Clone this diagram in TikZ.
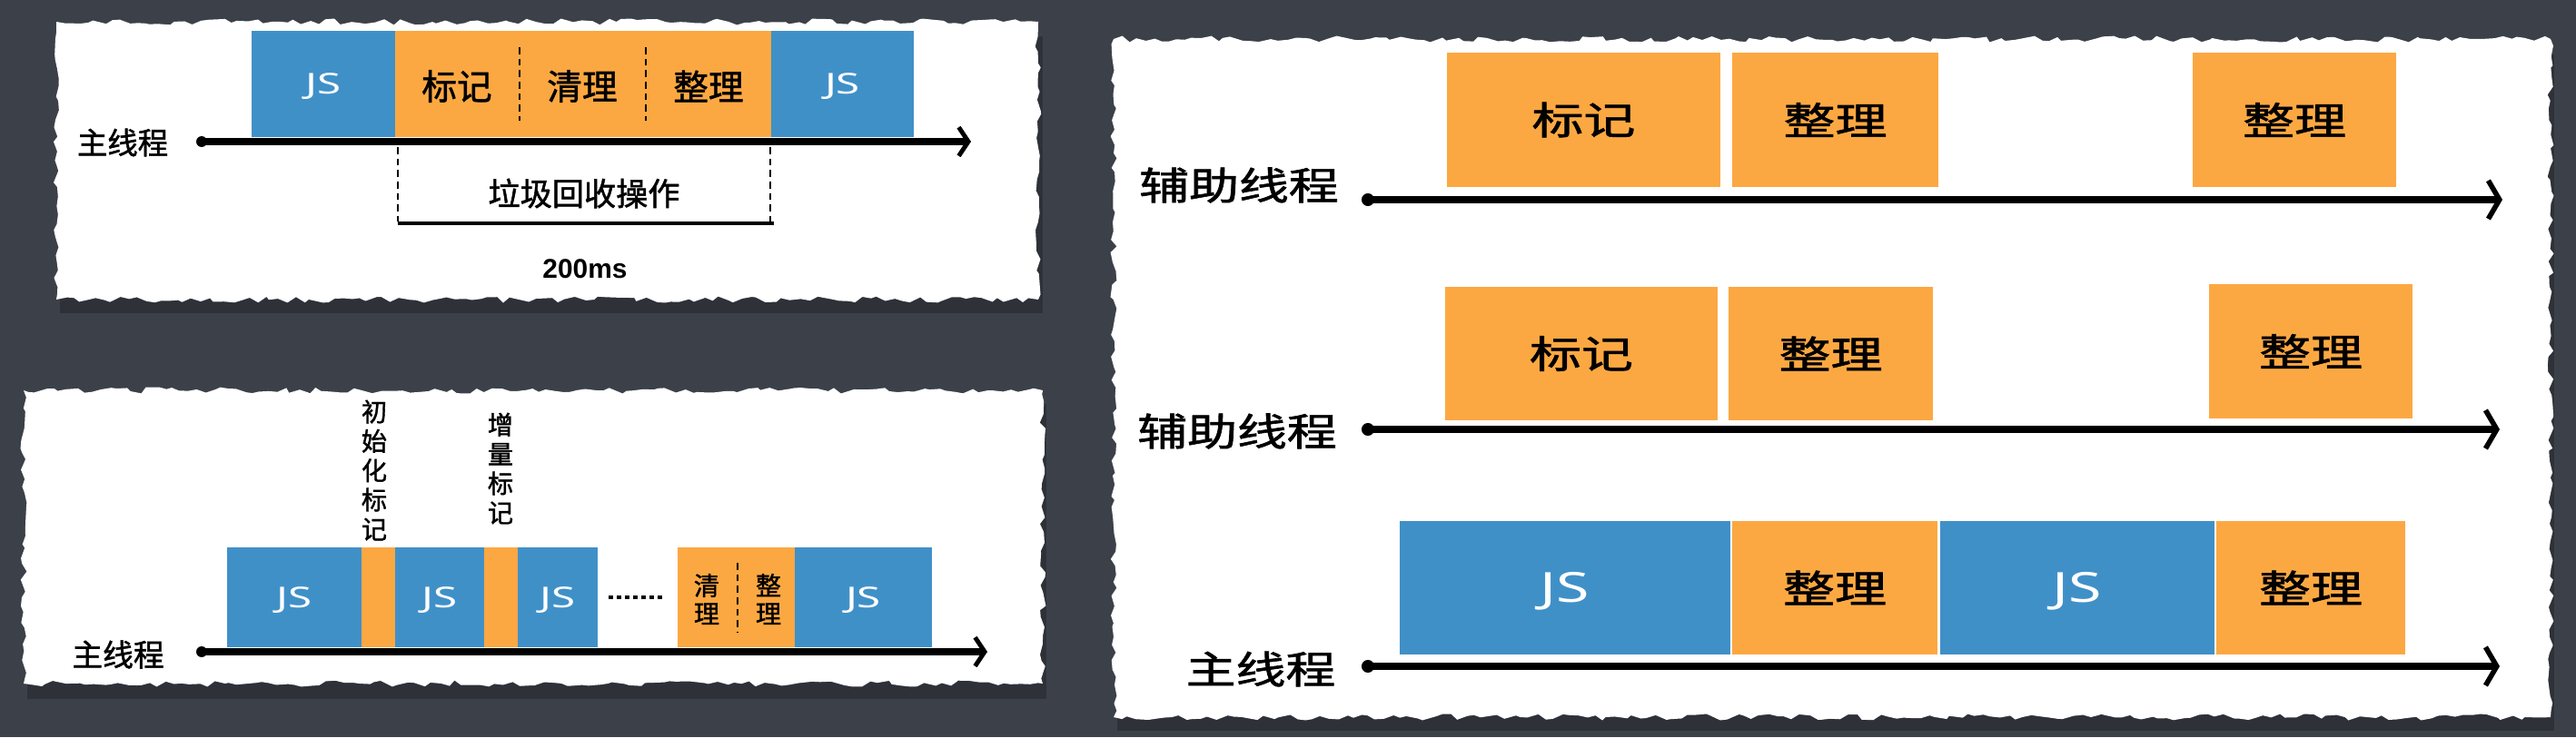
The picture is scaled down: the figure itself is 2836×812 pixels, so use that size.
\documentclass[tikz,border=0pt]{standalone}
\usepackage{fontspec}
\usepackage{graphicx}
\newfontfamily\cjk[FakeBold=1.4]{Noto Sans CJK SC}
\newfontfamily\lat{Noto Sans}
\newfontfamily\latb{Liberation Sans}
\usetikzlibrary{fit,arrows.meta,decorations.pathmorphing}
\definecolor{jsblue}{RGB}{64,144,200}
\definecolor{gcorange}{RGB}{252,168,66}
\definecolor{board}{RGB}{60,65,73}
\newcommand\myfs[1]{\fontsize{#1}{#1}\selectfont}
\newcommand\mysx[2]{\scalebox{#1}[1]{#2}}
\begin{document}
\begin{tikzpicture}[x=0.01cm,y=-0.01cm,
  paper/.style={fill=white, decorate, decoration={random steps,segment length=2.5pt,amplitude=1pt}},
  shade/.style={fill=black, opacity=0.22},
  jsb/.style={fill=jsblue, inner sep=0pt, outer sep=0pt},
  gcb/.style={fill=gcorange, inner sep=0pt, outer sep=0pt},
  txt/.style={inner sep=0pt, font=\cjk},
  jst/.style={inner sep=0pt, anchor=base, yshift=-3.2pt, text=white, font=\lat\myfs{9}},
  jstb/.style={inner sep=0pt, anchor=base, yshift=-4.6pt, text=white, font=\lat\myfs{13}},
  axis/.style={line width=2.1pt, line cap=round, -{Straight Barb[length=3pt,width=9pt,line width=1.4pt]}},
  axisb/.style={line width=2.3pt, line cap=round, -{Straight Barb[length=3.5pt,width=12pt,line width=1.6pt]}},
  dsh/.style={line width=0.5pt, dash pattern=on 2.2pt off 1.4pt},
]
\pgfmathsetseed{11}
\fill[board] (0,0) rectangle (2836,812);
\useasboundingbox (0,0) rectangle (2836,812);

% ---------- shadows and papers ----------
\fill[shade] (66,40) rectangle (1148,345);
\fill[shade] (30,445) rectangle (1152,770);
\fill[shade] (1230,60) rectangle (2812,805);
\fill[paper] (62,24) rectangle (1143,330);
\fill[paper] (26,430) rectangle (1148,753);
\fill[paper] (1226,43) rectangle (2808,790);

% ================= Card 1 =================
\node[jsb, fit={(277,34)(435,151)}] (c1j1) {};
\node[gcb, fit={(435,34)(849,151)}] (c1gc) {};
\node[jsb, fit={(849,34)(1006,151)}] (c1j2) {};
\node[jst] at (c1j1.center) {\mysx{1.5}{JS}};
\node[jst] at (c1j2.center) {\mysx{1.5}{JS}};
\node[txt, font=\cjk\myfs{11}] (c1mk) at (503,95) {标记};
\node[txt, font=\cjk\myfs{11}] (c1cl) at (641,95) {清理};
\node[txt, font=\cjk\myfs{11}] (c1zl) at (780,95) {整理};
\coordinate (c1d1a) at (572,52); \coordinate (c1d1b) at (572,133);
\coordinate (c1d2a) at (711,52); \coordinate (c1d2b) at (711,133);
\draw[dsh] (c1d1a) -- (c1d1b);
\draw[dsh] (c1d2a) -- (c1d2b);
\coordinate (c1a0) at (222,156); \coordinate (c1a1) at (1069,156);
\draw[axis] (c1a0) -- (c1a1);
\fill (c1a0) circle (1.7pt);
\node[txt, font=\cjk\myfs{9.5}] (c1lab) at (135,157) {主线程};
\coordinate (c1v1a) at (438,162); \coordinate (c1v1b) at (438,244);
\coordinate (c1v2a) at (848,162); \coordinate (c1v2b) at (848,244);
\draw[dsh] (c1v1a) -- (c1v1b);
\draw[dsh] (c1v2a) -- (c1v2b);
\coordinate (c1b0) at (438,246); \coordinate (c1b1) at (852,246);
\draw[line width=1.1pt] (c1b0) -- (c1b1);
\node[txt, font=\cjk\myfs{10}] (c1gcl) at (643,213) {垃圾回收操作};
\node[txt, font=\latb\bfseries\myfs{8.5}] (c1ms) at (644,296) {200ms};

% ================= Card 2 =================
\node[jsb, fit={(250,603)(398,713)}] (c2j1) {};
\node[gcb, fit={(398,603)(435,713)}] (c2g1) {};
\node[jsb, fit={(435,603)(533,713)}] (c2j2) {};
\node[gcb, fit={(533,603)(570,713)}] (c2g2) {};
\node[jsb, fit={(570,603)(658,713)}] (c2j3) {};
\node[gcb, fit={(746,603)(875,713)}] (c2g3) {};
\node[jsb, fit={(875,603)(1026,713)}] (c2j4) {};
\node[jst] at (c2j1.center) {\mysx{1.5}{JS}};
\node[jst] at (c2j2.center) {\mysx{1.5}{JS}};
\node[jst] at (c2j3.center) {\mysx{1.5}{JS}};
\node[jst] at (c2j4.center) {\mysx{1.5}{JS}};
\coordinate (c2o0) at (670,658); \coordinate (c2o1) at (729,658);
\draw[line width=1pt, dash pattern=on 1.5pt off 1.05pt] (c2o0) -- (c2o1);
\coordinate (c2da) at (812,620); \coordinate (c2db) at (812,697);
\draw[dsh] (c2da) -- (c2db);
\node[txt, font=\cjk\myfs{8}, align=center] (c2cl) at (778,660) {清\\[0.8pt]理};
\node[txt, font=\cjk\myfs{8}, align=center] (c2zl) at (846,660) {整\\[0.8pt]理};
\coordinate (c2a0) at (222,718); \coordinate (c2a1) at (1087,718);
\draw[axis] (c2a0) -- (c2a1);
\fill (c2a0) circle (1.7pt);
\node[txt, font=\cjk\myfs{9.6}] (c2lab) at (130,721) {主线程};
\node[txt, font=\cjk\myfs{8}, align=center] (c2init) at (412,518) {初\\[1.2pt]始\\[1.2pt]化\\[1.2pt]标\\[1.2pt]记};
\node[txt, font=\cjk\myfs{8}, align=center] (c2inc) at (551,516) {增\\[1.2pt]量\\[1.2pt]标\\[1.2pt]记};

% ================= Card 3 =================
% row 1
\node[gcb, fit={(1593,58)(1894,206)}] (r1a) {};
\node[gcb, fit={(1907,58)(2134,206)}] (r1b) {};
\node[gcb, fit={(2414,58)(2638,206)}] (r1c) {};
\node[txt, font=\cjk\myfs{12}] at (r1a.center) {\mysx{1.35}{标记}};
\node[txt, font=\cjk\myfs{12}] at (r1b.center) {\mysx{1.35}{整理}};
\node[txt, font=\cjk\myfs{12}] at (r1c.center) {\mysx{1.35}{整理}};
\coordinate (r1s) at (1506,220); \coordinate (r1e) at (2755,220);
\draw[axisb] (r1s) -- (r1e);
\fill (r1s) circle (2pt);
\node[txt, font=\cjk\myfs{12}] (r1lab) at (1364,204) {\mysx{1.3}{辅助线程}};
% row 2
\node[gcb, fit={(1591,316)(1891,463)}] (r2a) {};
\node[gcb, fit={(1903,316)(2128,463)}] (r2b) {};
\node[gcb, fit={(2432,313)(2656,461)}] (r2c) {};
\node[txt, font=\cjk\myfs{12}] at (r2a.center) {\mysx{1.35}{标记}};
\node[txt, font=\cjk\myfs{12}] at (r2b.center) {\mysx{1.35}{整理}};
\node[txt, font=\cjk\myfs{12}] at (r2c.center) {\mysx{1.35}{整理}};
\coordinate (r2s) at (1506,473); \coordinate (r2e) at (2752,473);
\draw[axisb] (r2s) -- (r2e);
\fill (r2s) circle (2pt);
\node[txt, font=\cjk\myfs{12}] (r2lab) at (1362,475) {\mysx{1.3}{辅助线程}};
% row 3
\node[jsb, fit={(1541,574)(1905,721)}] (r3a) {};
\node[gcb, fit={(1907,574)(2133,721)}] (r3b) {};
\node[jsb, fit={(2136,574)(2438,721)}] (r3c) {};
\node[gcb, fit={(2440,574)(2648,721)}] (r3d) {};
\node[jstb] at (r3a.center) {\mysx{1.45}{JS}};
\node[txt, font=\cjk\myfs{12}] at (r3b.center) {\mysx{1.35}{整理}};
\node[jstb] at (r3c.center) {\mysx{1.45}{JS}};
\node[txt, font=\cjk\myfs{12}] at (r3d.center) {\mysx{1.35}{整理}};
\coordinate (r3s) at (1506,734); \coordinate (r3e) at (2752,734);
\draw[axisb] (r3s) -- (r3e);
\fill (r3s) circle (2pt);
\node[txt, font=\cjk\myfs{12}] (r3lab) at (1388,737) {\mysx{1.3}{主线程}};
\end{tikzpicture}
\end{document}
